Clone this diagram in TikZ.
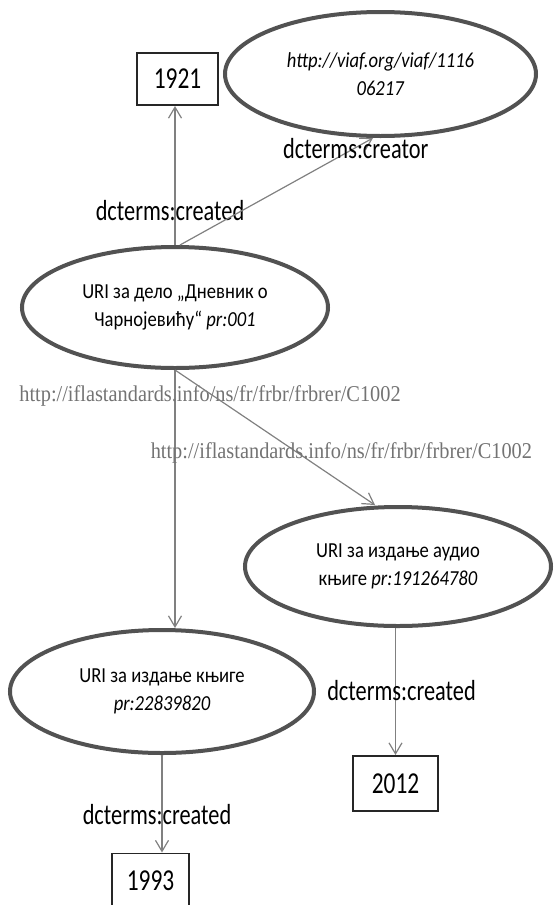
\documentclass[tikz,border=0pt]{standalone}
\usepackage{fontspec}
\setmainfont{Carlito}[FakeStretch=0.87]
\newfontfamily\lblfont{Carlito}[FakeStretch=0.77]
\newfontfamily\timesfont{Liberation Serif}[FakeStretch=0.9]
\usetikzlibrary{arrows.meta,calc,positioning,shapes.geometric}

\begin{document}
\begin{tikzpicture}[x=0.5pt,y=-0.5pt,
        res/.style={ellipse,draw=black!68,line width=2pt,minimum width=153pt,minimum height=60.5pt,inner sep=0pt,align=center,font=\fontsize{10.7}{14.25}\selectfont},
        lit/.style={rectangle,draw=black!85,line width=0.8pt,minimum width=40.7pt,minimum height=26.2pt,font={\lblfont\fontsize{15.2}{16}\selectfont}},
        rel/.style={draw=black!50,line width=0.6pt,-{Straight Barb[length=5.5pt,width=6.5pt]}},
        prop/.style={font={\lblfont\fontsize{14.5}{16}\selectfont},inner sep=0pt},
        frbr/.style={font={\timesfont\fontsize{11.3}{13}\selectfont},text=black!55,inner sep=0pt}]
    \useasboundingbox (0,0) rectangle (555,905);

    \node[res] (a1) at (175,307.5) {URI за дело „Дневник о\\Чарнојевићу“ \textit{pr:001}};
    \node[lit] (a2) at ($(a1)+(2.5,-228.5)$) {1921};
    \node[res,minimum width=155.5pt,minimum height=62pt] (a3) at ($(a1)+(205.5,-233.5)$) {\textit{http://viaf.org/viaf/1116}\\\textit{06217}};

    \node[res,minimum height=59.5pt] (b1) at ($(a1)+(223,259)$) {URI за издање аудио\\књиге \textit{pr:191264780}};
    \node[lit,minimum width=42.7pt,minimum height=27.7pt] (b2) at ($(b1)+(-2.5,217)$) {2012};

    \node[res,minimum width=152pt,minimum height=61.5pt] (c1) at ($(a1)+(-13,384)$) {URI за издање књиге\\\textit{pr:22839820}};
    \node[lit,minimum width=38.7pt,minimum height=27.7pt] (c2) at ($(c1)+(-11.5,189.5)$) {1993};

    \draw[rel] (a1.north) -- node[prop,pos=0.245,xshift=-2.5pt] {dcterms:created} (a1.north |- a2.south);
    \draw[rel] ([xshift=2.5pt]a1.north) -- node[prop,pos=0.9,xshift=1pt] {dcterms:creator} ([xshift=-3.75pt]a3.south);
    \draw[rel] (a1.south) -- node[frbr,pos=0.1,xshift=17.5pt] {http://iflastandards.info/ns/fr/frbr/frbrer/C1002} (a1.south |- c1.north);
    \draw[rel] (a1.south) -- node[frbr,pos=0.617,xshift=21.5pt] {http://iflastandards.info/ns/fr/frbr/frbrer/C1002} ([xshift=-11.5pt]b1.north);
    \draw[rel] (b2.north |- b1.south) -- node[prop,pos=0.49,xshift=3pt] {dcterms:created} (b2.north);
    \draw[rel] (c1.south) -- node[prop,pos=0.61,xshift=-2.5pt] {dcterms:created} (c1.south |- c2.north);
\end{tikzpicture}
\end{document}
